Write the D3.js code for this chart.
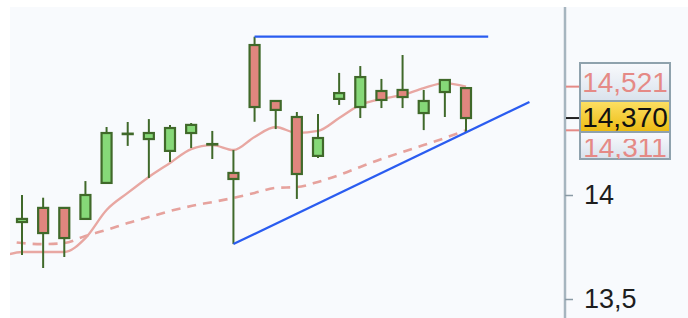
<!DOCTYPE html>
<html>
<head>
<meta charset="utf-8">
<script src="https://cdn.jsdelivr.net/npm/d3@7"></script>
<style>
  body { margin: 0; background: #fff; }
  svg { display: block; font-family: "Liberation Sans", Arial, sans-serif; }
</style>
</head>
<body>
<div id="chart"></div>
<script>
// candles, one per day
var open  = [13.870, 13.938, 13.938, 13.885, 14.058, 14.295, 14.269, 14.212, 14.298, 14.245, 14.106,
             14.721, 14.452, 14.375, 14.188, 14.462, 14.423, 14.500, 14.505, 14.394, 14.495, 14.514];
var high  = [14.000, 13.987, 13.938, 14.067, 14.327, 14.351, 14.365, 14.337, 14.346, 14.308, 14.216,
             14.761, 14.452, 14.399, 14.389, 14.587, 14.620, 14.558, 14.673, 14.505, 14.553, 14.519];
var low   = [13.712, 13.649, 13.702, 13.880, 14.058, 14.236, 14.082, 14.159, 14.226, 14.173, 13.764,
             14.352, 14.317, 13.981, 14.178, 14.433, 14.370, 14.418, 14.418, 14.312, 14.375, 14.303];
var close = [13.885, 13.817, 13.793, 14.000, 14.298, 14.295, 14.298, 14.322, 14.337, 14.243, 14.077,
             14.423, 14.409, 14.101, 14.274, 14.490, 14.567, 14.457, 14.471, 14.452, 14.553, 14.370];

// moving averages, first value is one bar before the first candle
var maFast = [13.702, 13.726, 13.726, 13.726, 13.793, 13.928, 14.010, 14.087, 14.154, 14.221, 14.240, 14.216,
              14.279, 14.327, 14.298, 14.308, 14.370, 14.433, 14.462, 14.481, 14.514, 14.538, 14.521];
var maSlow = [13.784, 13.769, 13.764, 13.769, 13.803, 13.832, 13.865, 13.894, 13.923, 13.947, 13.966, 13.986,
              14.010, 14.034, 14.038, 14.063, 14.096, 14.135, 14.173, 14.207, 14.240, 14.274, 14.311];

// drawn lines (bar index, price)
var supportLine = [[10, 13.764], [24, 14.447]];
var resistLine = [[11, 14.761], [22.05, 14.761]];

var tickValues = [14, 13.5];
var lastFast = 14.521, lastClose = 14.370, lastSlow = 14.311;

var width = 688, height = 318;
var panelLeft = 10, panelTop = 7, axisX = 565;

var fmt = d3.formatLocale({decimal: ",", thousands: ".", grouping: [3], currency: ["", ""]});

var x = d3.scaleLinear().domain([0, 21]).range([22, 466]);
var y = d3.scaleLinear().domain([13.5, 14]).range([299, 195]);

var svg = d3.select('#chart')
    .append('svg')
    .attr('width', width)
    .attr('height', height);

var defs = svg.append('defs');
defs.append('clipPath').attr('id', 'plotclip')
    .append('rect').attr('x', panelLeft).attr('y', panelTop)
    .attr('width', axisX - panelLeft).attr('height', height - panelTop);
// the lowest label sits partly under the yellow one
defs.append('clipPath').attr('id', 'slowclip')
    .append('rect').attr('x', 580).attr('y', 139).attr('width', 90).attr('height', 20);

var g1 = defs.append('linearGradient').attr('id', 'grey').attr('x1', 0).attr('x2', 0).attr('y1', 0).attr('y2', 1);
g1.append('stop').attr('offset', '0%').attr('stop-color', '#f9fafd');
g1.append('stop').attr('offset', '100%').attr('stop-color', '#d9e2ec');
var g2 = defs.append('linearGradient').attr('id', 'yellow').attr('x1', 0).attr('x2', 0).attr('y1', 0).attr('y2', 1);
g2.append('stop').attr('offset', '0%').attr('stop-color', '#fde064');
g2.append('stop').attr('offset', '100%').attr('stop-color', '#ecbb12');

// panel
svg.append('rect')
    .attr('x', panelLeft).attr('y', panelTop)
    .attr('width', width - panelLeft).attr('height', height - panelTop)
    .attr('fill', '#f8fafd');

var plot = svg.append('g').attr('clip-path', 'url(#plotclip)');

// moving averages
var maLine = d3.line()
    .x(function(d, i) { return x(i - 1); })
    .y(function(d) { return y(d); })
    .curve(d3.curveMonotoneX);

plot.append('path')
    .attr('d', maLine(maSlow))
    .attr('fill', 'none')
    .attr('stroke', '#e6a29d')
    .attr('stroke-width', 2.6)
    .attr('stroke-dasharray', '9,7');

plot.append('path')
    .attr('d', maLine(maFast))
    .attr('fill', 'none')
    .attr('stroke', '#e8a7a2')
    .attr('stroke-width', 2.4);

// candles
var candles = d3.range(open.length).map(function(i) {
    return { i: i, o: open[i], h: high[i], l: low[i], c: close[i] };
});

var cg = plot.selectAll('g.candle')
    .data(candles)
    .enter()
    .append('g')
    .attr('class', 'candle');

cg.append('line')
    .attr('x1', function(d) { return x(d.i); })
    .attr('x2', function(d) { return x(d.i); })
    .attr('y1', function(d) { return y(d.h); })
    .attr('y2', function(d) { return y(d.l); })
    .attr('stroke', '#40692a')
    .attr('stroke-width', 2);

cg.append('rect')
    .attr('x', function(d) { return x(d.i) - 5; })
    .attr('width', 10)
    .attr('y', function(d) { return y(Math.max(d.o, d.c)); })
    .attr('height', function(d) { return Math.max(0.5, Math.abs(y(d.o) - y(d.c))); })
    .attr('fill', function(d) { return d.c >= d.o ? '#86d878' : '#e0867e'; })
    .attr('stroke', '#40692a')
    .attr('stroke-width', 2.2);

// trend lines
var pLine = d3.line()
    .x(function(d) { return x(d[0]); })
    .y(function(d) { return y(d[1]); });

plot.append('path').attr('d', pLine(supportLine))
    .attr('fill', 'none').attr('stroke', '#2a5cf0').attr('stroke-width', 2.3);
plot.append('path').attr('d', pLine(resistLine))
    .attr('fill', 'none').attr('stroke', '#2a5cf0').attr('stroke-width', 2.3);

// price axis
svg.append('line')
    .attr('x1', axisX).attr('x2', axisX)
    .attr('y1', panelTop).attr('y2', height)
    .attr('stroke', '#a6b5bf').attr('stroke-width', 2.5);

var axis = d3.axisRight(y)
    .tickValues(tickValues)
    .tickSize(8)
    .tickPadding(11)
    .tickFormat(function(d) { return fmt.format('~g')(d); });

var ax = svg.append('g')
    .attr('transform', 'translate(' + axisX + ',0)')
    .call(axis);
ax.select('.domain').remove();
ax.selectAll('.tick line').attr('stroke', '#8a9aa5').attr('stroke-width', 1.5);
ax.selectAll('.tick text')
    .attr('font-size', 27)
    .attr('fill', '#1e1e1e')
    .attr('font-family', '"Liberation Sans", Arial, sans-serif')
    .attr('dy', '0.3em');

// last value markers
[[lastFast, '#e58a86'], [lastClose, '#222'], [lastSlow, '#e58a86']].forEach(function(m) {
    svg.append('line')
        .attr('x1', axisX + 1).attr('x2', 580)
        .attr('y1', y(m[0])).attr('y2', y(m[0]))
        .attr('stroke', m[1]).attr('stroke-width', 2);
});

var boxX = 580, boxW = 90;
svg.append('rect')
    .attr('x', boxX).attr('y', 63).attr('width', boxW).attr('height', 38)
    .attr('fill', 'url(#grey)').attr('stroke', '#8fa2ad').attr('stroke-width', 2);
svg.append('rect')
    .attr('x', boxX).attr('y', 132).attr('width', boxW).attr('height', 27)
    .attr('fill', 'url(#grey)').attr('stroke', '#8fa2ad').attr('stroke-width', 2);

svg.append('text')
    .attr('x', boxX + boxW / 2).attr('y', 92)
    .attr('text-anchor', 'middle').attr('font-size', 28)
    .attr('fill', '#e58a86')
    .text(fmt.format('.3f')(lastFast));

svg.append('text')
    .attr('x', boxX + boxW / 2).attr('y', 157)
    .attr('clip-path', 'url(#slowclip)')
    .attr('text-anchor', 'middle').attr('font-size', 28)
    .attr('fill', '#e58a86')
    .text(fmt.format('.3f')(lastSlow));

svg.append('rect')
    .attr('x', boxX).attr('y', 101).attr('width', boxW).attr('height', 31)
    .attr('fill', 'url(#yellow)').attr('stroke', '#8fa2ad').attr('stroke-width', 2);

svg.append('text')
    .attr('x', boxX + boxW / 2).attr('y', 127)
    .attr('text-anchor', 'middle').attr('font-size', 28)
    .attr('fill', '#111')
    .text(fmt.format('.3f')(lastClose));
</script>
</body>
</html>
